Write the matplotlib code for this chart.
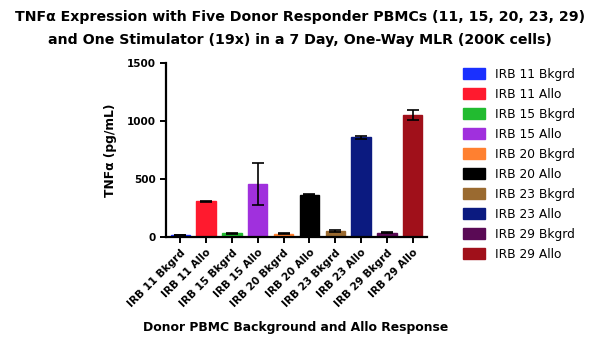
import matplotlib
matplotlib.use("Agg")
import matplotlib.pyplot as plt
from matplotlib.patches import Patch

categories = ["IRB 11 Bkgrd", "IRB 11 Allo", "IRB 15 Bkgrd", "IRB 15 Allo",
              "IRB 20 Bkgrd", "IRB 20 Allo", "IRB 23 Bkgrd", "IRB 23 Allo",
              "IRB 29 Bkgrd", "IRB 29 Allo"]
values = [17, 308, 32, 455, 29, 366, 55, 858, 38, 1050]
errors = [3, 4, 5, 180, 2, 6, 8, 10, 3, 45]
colors = ["#1a30ff", "#ff1a2e", "#22bb30", "#a030dd", "#ff8030",
          "#000000", "#9a6a30", "#0b1a80", "#5a0a55", "#a0101a"]
yticks = [0, 500, 1000, 1500]

fig = plt.figure(figsize=(6, 3.58), dpi=100)
ax = fig.add_axes([166/600, 1-237/358, (427-166)/600, (237-63)/358])

x = list(range(len(categories)))
ax.bar(x, values, width=0.75, color=colors, edgecolor=colors,
       yerr=errors, capsize=4.5, error_kw=dict(elinewidth=1.2, capthick=1.2, ecolor="black"))
ax.set_xlim(-0.55, 9.55)
ax.set_ylim(0, 1500)
ax.set_yticks(yticks)
ax.set_yticklabels([str(v) for v in yticks], fontsize=7.5, fontweight="bold")
ax.set_xticks(x)
ax.set_xticklabels(categories, rotation=45, ha="right", rotation_mode="anchor",
                   fontsize=7.5, fontweight="bold")
for s in ["top", "right"]:
    ax.spines[s].set_visible(False)
for s in ["left", "bottom"]:
    ax.spines[s].set_linewidth(1.6)
ax.tick_params(width=1.4, length=4)
ax.set_ylabel("TNFα (pg/mL)", fontsize=8.8, fontweight="bold", labelpad=7)
fig.text(296/600, 1-327/358, "Donor PBMC Background and Allo Response",
         ha="center", va="center", fontsize=8.9, fontweight="bold")

fig.text(0.5, 1-17/358, "TNFα Expression with Five Donor Responder PBMCs (11, 15, 20, 23, 29)",
         ha="center", va="center", fontsize=10.2, fontweight="bold")
fig.text(0.5, 1-40/358, "and One Stimulator (19x) in a 7 Day, One-Way MLR (200K cells)",
         ha="center", va="center", fontsize=10.2, fontweight="bold")

handles = [Patch(facecolor=c, edgecolor=c) for c in colors]
fig.legend(handles, categories, loc="upper left", bbox_to_anchor=(463/600, 1-68/358),
           frameon=False, fontsize=8.8, handlelength=1.8, handleheight=1.0,
           labelspacing=0.57, handletextpad=0.8, borderaxespad=0, borderpad=0)

fig.savefig("out.png", dpi=100)
